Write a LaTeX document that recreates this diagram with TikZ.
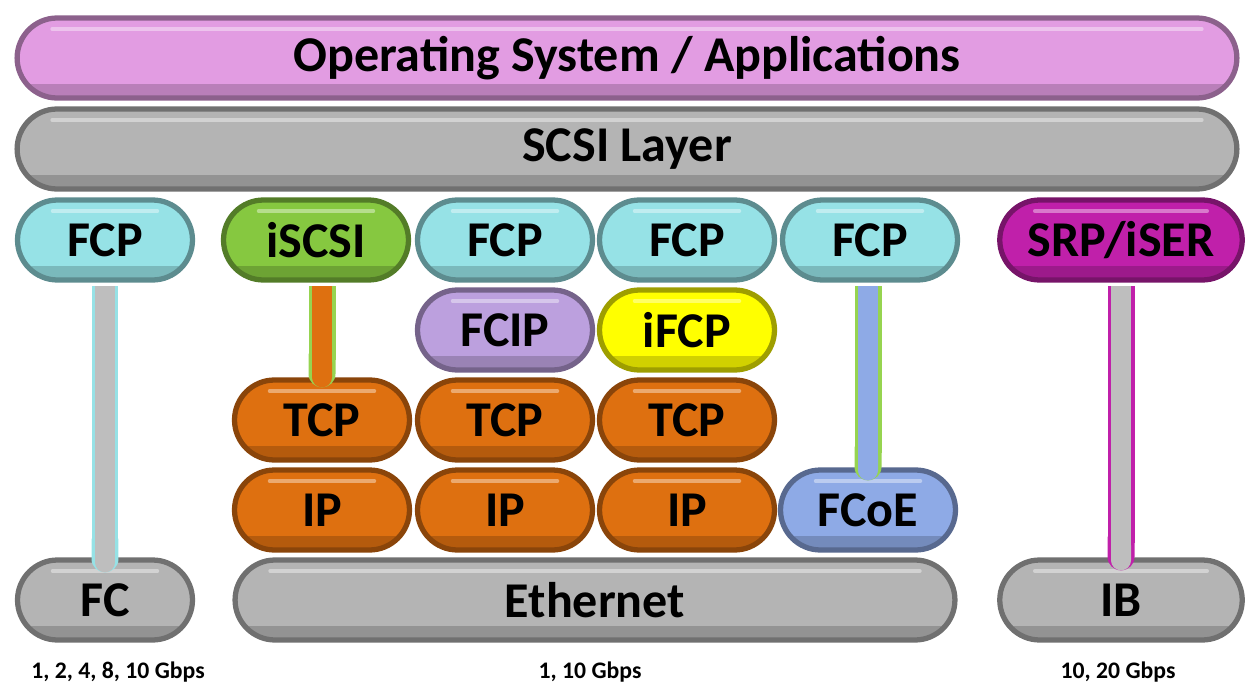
\documentclass[tikz,border=0pt]{standalone}
\usepackage{fontspec}
\setmainfont{Carlito}
\usepackage{xcolor}
\usetikzlibrary{shapes.misc,arrows.meta}

\definecolor{ospink}{RGB}{226,156,226}
\definecolor{scsigray}{RGB}{180,180,180}
\definecolor{fcpcyan}{RGB}{150,226,230}
\definecolor{iscsigreen}{RGB}{134,200,64}
\definecolor{fcippurple}{RGB}{188,160,222}
\definecolor{ifcpyellow}{RGB}{255,255,0}
\definecolor{tcporange}{RGB}{222,112,16}
\definecolor{fcoeblue}{RGB}{142,170,230}
\definecolor{srpmagenta}{RGB}{192,32,170}
\definecolor{stemgray}{RGB}{190,190,190}
\definecolor{stemgreen}{RGB}{150,212,80}

\begin{document}
\begin{tikzpicture}[x=0.02cm, y=-0.02cm,
    layer/.style={
        rounded rectangle,
        draw=#1!62!black,
        line width=3pt,
        fill=#1,
        minimum height=1.6cm,
        inner sep=0pt,
        font=\bfseries\fontsize{28.5}{32}\selectfont,
        path picture={
            \fill[black, opacity=0.18] ([yshift=0.28cm]path picture bounding box.south west)
                rectangle (path picture bounding box.south east);
            \draw[white, opacity=0.4, line width=2pt, line cap=round]
                ([xshift=0.7cm,yshift=-0.22cm]path picture bounding box.north west) --
                ([xshift=-0.7cm,yshift=-0.22cm]path picture bounding box.north east);
        }
    },
    stem/.style 2 args={
        line width=0.4cm,
        draw=#2,
        -{Round Cap},
        preaction={draw=#1, line width=0.54cm, -{Round Cap}}
    },
    rate/.style={font=\bfseries\fontsize{13.5}{16}\selectfont}]

    \useasboundingbox (0,0) rectangle (1248,693);

    % Upper layers
    \node[layer=ospink, minimum width=24.4cm] (os) at (627,58) {Operating System / Applications};
    \node[layer=scsigray, minimum width=24.4cm] (scsi) at (627,149) {SCSI Layer};

    % Protocols
    \node[layer=fcpcyan, minimum width=3.5cm] (fcp1) at (105,240) {FCP};
    \node[layer=iscsigreen, minimum width=3.7cm] (iscsi) at (316,240) {iSCSI};
    \node[layer=fcpcyan, minimum width=3.5cm] (fcp2) at (505,240) {FCP};
    \node[layer=fcpcyan, minimum width=3.5cm] (fcp3) at (687,240) {FCP};
    \node[layer=fcpcyan, minimum width=3.5cm] (fcp4) at (870,240) {FCP};
    \node[layer=srpmagenta, minimum width=4.85cm] (srp) at (1121,240) {SRP/iSER};

    \node[layer=fcippurple, minimum width=3.5cm] (fcip) at (505,330) {FCIP};
    \node[layer=ifcpyellow, minimum width=3.5cm] (ifcp) at (687,330) {iFCP};

    \node[layer=tcporange, minimum width=3.5cm] (tcp1) at (322,420) {TCP};
    \node[layer=tcporange, minimum width=3.5cm] (tcp2) at (505,420) {TCP};
    \node[layer=tcporange, minimum width=3.5cm] (tcp3) at (687,420) {TCP};

    \node[layer=tcporange, minimum width=3.5cm] (ip1) at (322,510) {IP};
    \node[layer=tcporange, minimum width=3.5cm] (ip2) at (505,510) {IP};
    \node[layer=tcporange, minimum width=3.5cm] (ip3) at (687,510) {IP};
    \node[layer=fcoeblue, minimum width=3.5cm] (fcoe) at (868,510) {FCoE};

    % Physical links
    \node[layer=scsigray, minimum width=3.5cm] (fc) at (105,600) {FC};
    \node[layer=scsigray, minimum width=14.4cm] (eth) at (595,600) {Ethernet};
    \node[layer=scsigray, minimum width=4.85cm] (ib) at (1121,600) {IB};

    % Stems
    \draw[stem={fcpcyan}{stemgray}] ([yshift=-2pt]fcp1.south) -- ([yshift=-0.3cm]fc.north);
    \draw[stem={stemgreen}{tcporange}] ([yshift=-2pt]iscsi.south -| tcp1.north) -- ([yshift=-0.2cm]tcp1.north);
    \draw[stem={stemgreen}{fcoeblue}] ([yshift=-2pt]fcp4.south -| fcoe.north) -- ([yshift=-0.26cm]fcoe.north);
    \draw[stem={srpmagenta}{stemgray}] ([yshift=-2pt]srp.south) -- ([yshift=-0.26cm]ib.north);

    % Speeds
    \node[rate] (fcrate) at (118,672) {1, 2, 4, 8, 10 Gbps};
    \node[rate] (ethrate) at (590,672) {1, 10 Gbps};
    \node[rate] (ibrate) at (1118,672) {10, 20 Gbps};
\end{tikzpicture}
\end{document}
